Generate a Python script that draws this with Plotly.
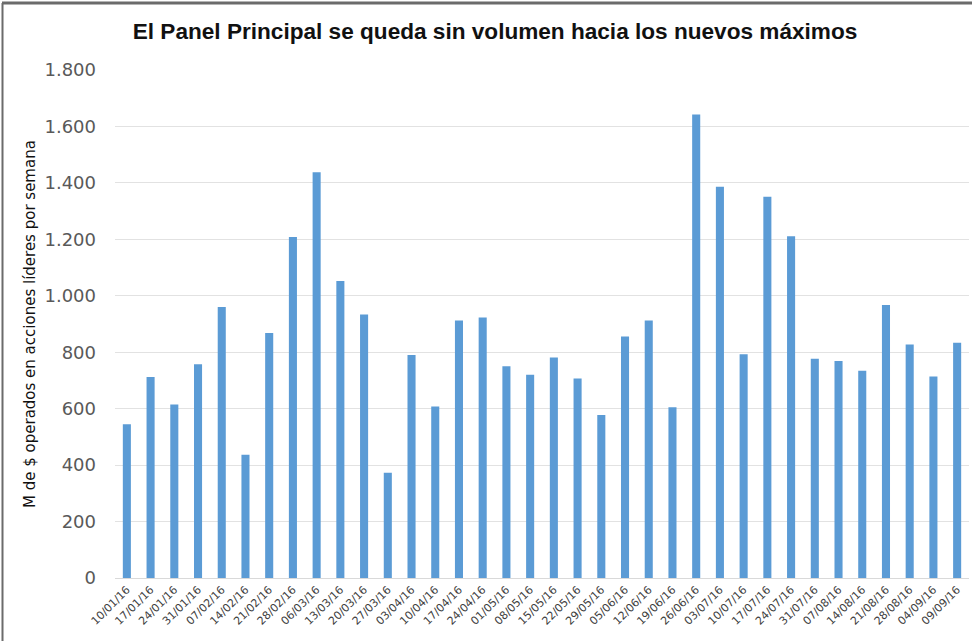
import plotly.graph_objects as go

weeks = ["10/01/16", "17/01/16", "24/01/16", "31/01/16", "07/02/16", "14/02/16",
         "21/02/16", "28/02/16", "06/03/16", "13/03/16", "20/03/16", "27/03/16",
         "03/04/16", "10/04/16", "17/04/16", "24/04/16", "01/05/16", "08/05/16",
         "15/05/16", "22/05/16", "29/05/16", "05/06/16", "12/06/16", "19/06/16",
         "26/06/16", "03/07/16", "10/07/16", "17/07/16", "24/07/16", "31/07/16",
         "07/08/16", "14/08/16", "21/08/16", "28/08/16", "04/09/16", "09/09/16"]
volume = [545, 712, 615, 757, 960, 437, 868, 1208, 1438, 1052, 934, 373,
          790, 608, 912, 923, 750, 720, 781, 707, 578, 856, 912, 605,
          1642, 1386, 793, 1351, 1211, 777, 769, 734, 967, 827, 714, 834]
y_ticks = [0, 200, 400, 600, 800, 1000, 1200, 1400, 1600, 1800]

title_text = "El Panel Principal se queda sin volumen hacia los nuevos máximos"
y_title = "M de $ operados en acciones líderes por semana"

fig = go.Figure(go.Bar(x=weeks, y=volume, marker=dict(color="#5B9BD5", line=dict(width=0)),
                       hoverinfo="x+y"))

fig.update_layout(
    width=972, height=641,
    margin=dict(l=115, r=3, t=70, b=63),
    paper_bgcolor="white", plot_bgcolor="white",
    separators=",.",
    bargap=0.66,
    showlegend=False,
    title=dict(text="<b>" + title_text + "</b>", x=495 / 972, xref="container", xanchor="center",
               y=1 - 31 / 641, yref="container", yanchor="middle",
               font=dict(family="Liberation Sans Narrow, Arial Narrow, sans-serif", size=22.6, color="#111111")),
    xaxis=dict(type="category", tickangle=-45, showgrid=False, showline=True,
               linecolor="#d9d9d9", linewidth=1, ticks="", automargin=False,
               tickfont=dict(family="DejaVu Sans", size=11, color="#404040")),
    yaxis=dict(range=[0, 1800], tickvals=y_ticks, tickformat=",d", showgrid=True,
               gridcolor="#e2e2e2", gridwidth=1, zeroline=False, ticks="",
               ticklabelstandoff=18, automargin=False,
               tickfont=dict(family="DejaVu Sans", size=18, color="#595959")),
    annotations=[dict(text=y_title, xref="paper", yref="paper",
                      x=(30 - 115) / 854, y=0.5, xanchor="center", yanchor="middle",
                      textangle=-90, showarrow=False,
                      font=dict(family="DejaVu Sans", size=15, color="#111111"))],
    shapes=[
        dict(type="line", xref="paper", yref="paper", x0=(2 - 115) / 854, x1=(972 - 115) / 854,
             y0=(578 - 3) / 508, y1=(578 - 3) / 508, line=dict(color="#6b6b6b", width=3)),
        dict(type="line", xref="paper", yref="paper", x0=(2.5 - 115) / 854, x1=(2.5 - 115) / 854,
             y0=(578 - 3) / 508, y1=(578 - 641) / 508, line=dict(color="#6b6b6b", width=2)),
    ],
)

fig.write_html("out.html", config={"displayModeBar": False},
               post_script="document.body.style.margin='0';document.body.style.overflow='hidden';")
